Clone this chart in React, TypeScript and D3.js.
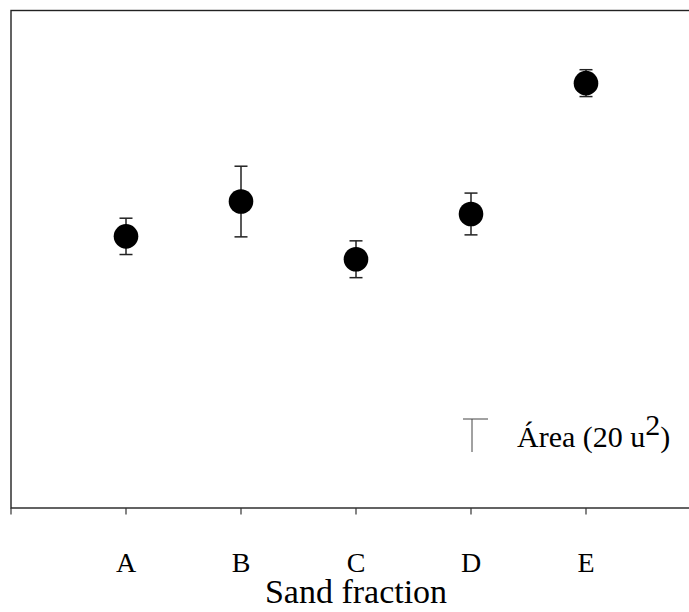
import React from 'react';
import * as d3 from 'd3';

const categories = ['A', 'B', 'C', 'D', 'E'];
const means = [54.6, 61.6, 50.0, 59.1, 85.4];
const errors = [3.65, 7.1, 3.7, 4.2, 2.7];
const legendLabel = 'Área (20 u';
const legendSup = '2';
const xTitle = 'Sand fraction';

const W = 689, H = 612;
const frame = { left: 11, right: 701, top: 10.5, bottom: 508 };
const FONT = '"Liberation Serif", "Times New Roman", serif';

export default function App() {
  const x = d3.scaleLinear().domain([0, categories.length + 1]).range([frame.left, frame.right]);
  const y = d3.scaleLinear().domain([0, 100]).range([frame.bottom, frame.top]);
  const ticks = d3.range(0, categories.length + 2);
  const cap = 6.5;

  return (
    <div style={{ position: 'absolute', left: 0, top: 0 }}>
      <svg width={W} height={H} style={{ display: 'block', background: '#fff' }}>
        {/* frame */}
        <rect x={frame.left} y={frame.top} width={frame.right - frame.left} height={frame.bottom - frame.top}
          fill="none" stroke="#222" strokeWidth={1.4} />

        {/* x ticks */}
        {ticks.map(t => (
          <line key={t} x1={x(t)} x2={x(t)} y1={frame.bottom} y2={frame.bottom + 6.5} stroke="#333" strokeWidth={1.2} />
        ))}
        {categories.map((c, i) => (
          <text key={c} x={x(i + 1)} y={571.5} textAnchor="middle" fontFamily={FONT} fontSize={28} fill="#000">{c}</text>
        ))}
        <text x={(x(3))} y={603} textAnchor="middle" fontFamily={FONT} fontSize={34} fill="#000">{xTitle}</text>

        {/* error bars + points */}
        {categories.map((c, i) => {
          const cx = x(i + 1);
          const lo = y(means[i] - errors[i]);
          const hi = y(means[i] + errors[i]);
          return (
            <g key={c}>
              <line x1={cx} x2={cx} y1={hi} y2={lo} stroke="#222" strokeWidth={1.5} />
              <line x1={cx - cap} x2={cx + cap} y1={hi} y2={hi} stroke="#222" strokeWidth={1.5} />
              <line x1={cx - cap} x2={cx + cap} y1={lo} y2={lo} stroke="#222" strokeWidth={1.5} />
              <circle cx={cx} cy={y(means[i])} r={12.3} fill="#000" />
            </g>
          );
        })}

        {/* legend */}
        <g>
          <line x1={472} x2={472} y1={419} y2={452} stroke="#444" strokeWidth={1} />
          <line x1={463} x2={488} y1={419} y2={419} stroke="#444" strokeWidth={1} />
          <text x={517} y={447} fontFamily={FONT} fontSize={30} fill="#000">
            {legendLabel}
            <tspan dy={-12}>{legendSup}</tspan>
            <tspan dy={12}>)</tspan>
          </text>
        </g>
      </svg>
    </div>
  );
}
